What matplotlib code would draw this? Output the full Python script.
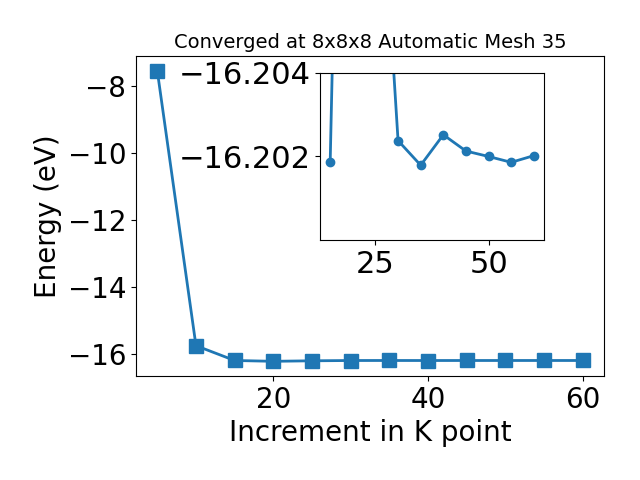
import matplotlib
matplotlib.use("Agg")
import matplotlib.pyplot as plt

kpoints = [5, 10, 15, 20, 25, 30, 35, 40, 45, 50, 55, 60]
energy = [-7.55, -15.76, -16.20186, -16.2263, -16.2110, -16.20238, -16.20179,
          -16.20252, -16.20213, -16.20200, -16.20186, -16.20202]
title = "Converged at 8x8x8 Automatic Mesh 35"

fig = plt.figure(figsize=(6.4, 4.8), dpi=100)
ax = fig.add_axes([0.2125, 0.217, 0.7315, 0.666])
ax.plot(kpoints, energy, marker='s', markersize=10, linewidth=2, color='#1f77b4')
ax.set_xlabel("Increment in K point", fontsize=20)
ax.set_ylabel("Energy (eV)", fontsize=20)
ax.tick_params(labelsize=20)
ax.set_title(title, fontsize=14)

ins = fig.add_axes([0.5, 0.5, 0.35, 0.348])
ins.plot(kpoints[2:], energy[2:], marker='o', markersize=6, linewidth=2, color='#1f77b4')
ins.set_ylim(-16.200, -16.204)
ins.set_yticks([-16.204, -16.202])
ins.set_yticklabels(["\u221216.204", "\u221216.202"])
ins.set_xticks([25, 50])
ins.tick_params(labelsize=22)

fig.savefig("out.png", dpi=100)
